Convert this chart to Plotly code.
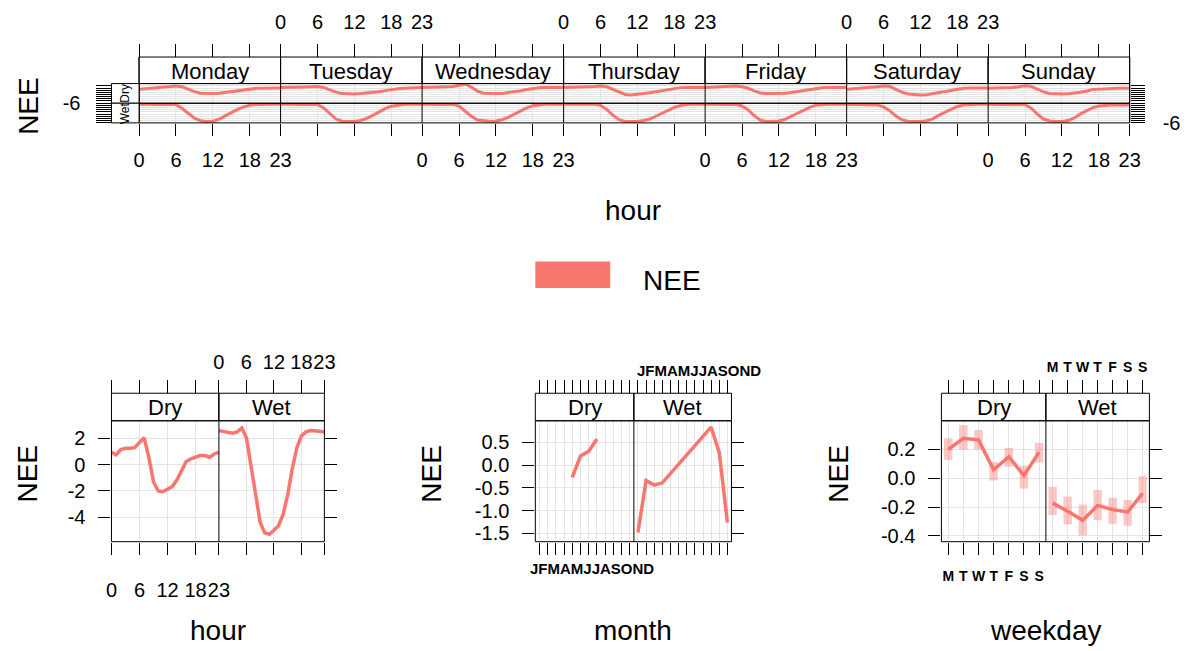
import plotly.graph_objects as go

W, H = 1188, 651
def fx(p): return p / W
def fy(p): return 1 - p / H

FONT = "Liberation Sans, Arial, sans-serif"
LINE = "#F8766D"
BAND = "rgba(248,118,109,0.40)"
GRID = "#E4E4E4"

# ---------------- data ----------------
hours = list(range(24))
hour_ticks = [0, 6, 12, 18, 23]
hour_ticktext = ["0", "6", "12", "18", "23"]
days = ["Monday", "Tuesday", "Wednesday", "Thursday", "Friday", "Saturday", "Sunday"]
seasons = ["Dry", "Wet"]

dry_mon = [0.4, 0.7, 1.0, 1.3, 1.6, 1.9, 1.9, 1.6, 0.4, -0.65, -1.45, -1.6, -1.6, -1.45, -1.1, -0.8, -0.35, 0.1, 0.55, 0.85, 0.85, 1.0, 1.0, 1.0]
dry_tue = [1.3, 1.3, 1.2, 1.3, 1.5, 1.6, 1.7, 1.3, 0.2, -0.9, -1.6, -1.75, -1.75, -1.6, -1.4, -1.1, -0.7, -0.2, 0.3, 0.7, 0.9, 1.0, 1.1, 1.2]
dry_wed = [1.3, 1.3, 1.4, 1.5, 1.6, 1.7, 2.3, 2.8, 1.5, -0.4, -1.4, -1.6, -1.6, -1.5, -1.2, -0.8, -0.3, 0.3, 0.8, 1.1, 1.2, 1.3, 1.3, 1.3]
dry_thu = [1.3, 1.3, 1.4, 1.5, 1.6, 1.7, 1.9, 1.6, 0.3, -1.0, -2.0, -2.2, -2.0, -1.6, -1.2, -0.7, -0.1, 0.5, 1.0, 1.2, 1.3, 1.3, 1.3, 1.3]
dry_fri = [1.3, 1.4, 1.5, 1.7, 1.9, 1.9, 1.6, 0.9, -0.3, -1.3, -1.5, -1.5, -1.5, -1.4, -1.1, -0.6, -0.1, 0.4, 0.8, 1.1, 1.2, 1.3, 1.3, 1.3]
dry_sat = [0.4, 0.6, 0.7, 0.9, 1.2, 1.6, 1.9, 1.8, 0.4, -0.9, -1.8, -2.1, -2.2, -2.1, -1.6, -1.1, -0.5, 0.1, 0.7, 0.9, 1.0, 1.0, 1.0, 1.0]
dry_sun = [0.85, 0.9, 1.0, 1.1, 1.3, 1.6, 2.1, 1.8, 0.6, -0.8, -1.5, -1.75, -1.75, -1.7, -1.4, -1.0, -0.4, 0.3, 0.5, 0.7, 0.8, 0.85, 0.85, 0.85]

wet_mon = [2.6, 2.6, 2.6, 2.6, 2.6, 2.6, 2.55, 0.6, -1.65, -3.9, -5.1, -5.45, -5.3, -4.4, -2.85, -1.2, 0.2, 1.4, 2.15, 2.45, 2.6, 2.6, 2.6, 2.6]
wet_tue = [2.6, 2.6, 2.6, 2.6, 2.6, 2.6, 2.5, 0.9, -1.8, -4.3, -5.3, -5.45, -5.4, -5.0, -4.0, -2.6, -1.0, 0.6, 1.7, 2.3, 2.55, 2.6, 2.6, 2.6]
wet_wed = [2.6, 2.6, 2.6, 2.6, 2.6, 2.55, 1.8, -0.5, -3.0, -4.8, -5.2, -5.3, -5.2, -4.6, -3.5, -2.0, -0.5, 0.9, 1.9, 2.4, 2.6, 2.6, 2.6, 2.6]
wet_thu = [2.6, 2.6, 2.6, 2.6, 2.6, 2.6, 2.1, 0.2, -2.5, -4.6, -5.4, -5.45, -5.4, -5.0, -4.3, -3.0, -1.6, -0.1, 1.2, 2.0, 2.5, 2.6, 2.6, 2.6]
wet_fri = [2.6, 2.6, 2.6, 2.6, 2.6, 2.5, 1.8, 0.0, -2.8, -4.9, -5.4, -5.45, -5.2, -4.4, -2.8, -1.6, -0.2, 1.2, 2.2, 2.5, 2.6, 2.6, 2.6, 2.6]
wet_sat = [2.6, 2.6, 2.6, 2.6, 2.6, 2.3, 1.4, -0.4, -2.9, -4.7, -5.3, -5.45, -5.45, -5.1, -4.2, -2.5, -1.2, 0.3, 1.6, 2.3, 2.55, 2.6, 2.6, 2.6]
wet_sun = [2.6, 2.6, 2.6, 2.6, 2.6, 2.6, 2.4, 0.8, -2.0, -4.3, -5.2, -5.45, -5.45, -5.0, -3.8, -1.9, -0.6, 1.0, 1.8, 2.2, 2.3, 2.3, 2.3, 2.3]

dry_by_day = [dry_mon, dry_tue, dry_wed, dry_thu, dry_fri, dry_sat, dry_sun]
wet_by_day = [wet_mon, wet_tue, wet_wed, wet_thu, wet_fri, wet_sat, wet_sun]

hour_dry = [0.95, 0.75, 1.15, 1.25, 1.25, 1.3, 1.7, 2.05, 0.55, -1.3, -2.0, -2.05, -1.87, -1.67, -1.17, -0.42, 0.25, 0.45, 0.57, 0.7, 0.7, 0.57, 0.82, 0.95]
hour_wet = [2.6, 2.55, 2.5, 2.4, 2.5, 2.8, 2.05, -0.05, -2.5, -4.4, -5.2, -5.3, -5.0, -4.65, -3.8, -2.3, -0.3, 1.3, 2.2, 2.5, 2.6, 2.6, 2.55, 2.5]

months = list(range(1, 13))
month_labels = ["J", "F", "M", "A", "M", "J", "J", "A", "S", "O", "N", "D"]
dry_months = [5, 6, 7, 8]
dry_month_nee = [-0.27, 0.2, 0.3, 0.57]
wet_months = [1, 2, 3, 4, 9, 10, 11, 12]
wet_month_nee = [-1.48, -0.34, -0.44, -0.39, 0.63, 0.83, 0.27, -1.26]

weekdays = [1, 2, 3, 4, 5, 6, 7]
weekday_labels = ["M", "T", "W", "T", "F", "S", "S"]
wd_dry = [0.198, 0.276, 0.265, 0.058, 0.148, 0.018, 0.18]
wd_dry_lo = [0.126, 0.198, 0.198, -0.016, 0.079, -0.072, 0.108]
wd_dry_hi = [0.276, 0.366, 0.333, 0.112, 0.209, 0.085, 0.243]
wd_wet = [-0.173, -0.229, -0.292, -0.189, -0.218, -0.234, -0.106]
wd_wet_lo = [-0.256, -0.319, -0.398, -0.292, -0.315, -0.330, -0.173]
wd_wet_hi = [-0.06, -0.128, -0.184, -0.083, -0.135, -0.151, 0.013]

# ---------------- helpers ----------------
fig = go.Figure()
lay = {}

def ref(p, n):
    return p + ("" if n == 1 else str(n))

def axkey(p, n):
    return p + "axis" + ("" if n == 1 else str(n))

def tfont(size=20, bold=False):
    d = dict(family=FONT, size=size, color="black")
    if bold:
        d["weight"] = "bold"
    return d

def make_x(n, dom, rng, tv, tt, side, anchor, position=None, labels=True,
           ticklen=12, standoff=0, font=None, grid=True, overlaying=None):
    d = dict(range=rng, tickmode="array", tickvals=tv, ticktext=tt, side=side,
             ticks="outside", ticklen=ticklen, tickwidth=1, tickcolor="black",
             showticklabels=labels, showgrid=grid, gridcolor=GRID, gridwidth=1,
             zeroline=False, showline=False, tickangle=0,
             ticklabelstandoff=standoff, tickfont=font or tfont(), fixedrange=True)
    if overlaying:
        d["overlaying"] = overlaying
    else:
        d["domain"] = [fx(dom[0]), fx(dom[1])]
    if anchor == "free":
        d["anchor"] = "free"
        d["position"] = position
    else:
        d["anchor"] = anchor
    lay[axkey("x", n)] = d

def make_y(n, dom, rng, tv, tt, side, anchor, position=None, labels=True,
           ticklen=12, standoff=0, font=None, grid=True):
    d = dict(domain=[fy(dom[1]), fy(dom[0])], range=rng, tickmode="array",
             tickvals=tv, ticktext=tt, side=side, ticks="outside", ticklen=ticklen,
             tickwidth=1, tickcolor="black", showticklabels=labels, showgrid=grid,
             gridcolor=GRID, gridwidth=1, zeroline=False, showline=False,
             ticklabelstandoff=standoff, tickfont=font or tfont(), fixedrange=True)
    if anchor == "free":
        d["anchor"] = "free"
        d["position"] = position
    else:
        d["anchor"] = anchor
    lay[axkey("y", n)] = d

def line_trace(x, y, xn, yn, width=3.0, color=LINE):
    fig.add_trace(go.Scatter(x=x, y=y, xaxis=ref("x", xn), yaxis=ref("y", yn),
                             mode="lines", line=dict(color=color, width=width),
                             showlegend=False, hoverinfo="skip"))

def dummy(xn, yn):
    fig.add_trace(go.Scatter(x=[None], y=[None], xaxis=ref("x", xn), yaxis=ref("y", yn),
                             mode="markers", showlegend=False, hoverinfo="skip"))

shapes = []
annots = []

def rect(x0, y0, x1, y1, fill=None, lw=1):
    shapes.append(dict(type="rect", xref="paper", yref="paper", x0=fx(x0), x1=fx(x1),
                       y0=fy(y1), y1=fy(y0), line=dict(color="black", width=lw),
                       fillcolor=fill if fill else "rgba(0,0,0,0)", layer="above"))

def vline(x, y0, y1):
    shapes.append(dict(type="line", xref="paper", yref="paper", x0=fx(x), x1=fx(x),
                       y0=fy(y1), y1=fy(y0), line=dict(color="black", width=1), layer="above"))

def text(x, y, s, size=20, angle=0, xanchor="center", bold=False):
    annots.append(dict(x=fx(x), y=fy(y), xref="paper", yref="paper", text=s,
                       showarrow=False, textangle=angle, xanchor=xanchor, yanchor="middle",
                       font=tfont(size, bold)))

TITLE = 28
STRIP = 22

# ---------------- top panel (hour x weekday, by season) ----------------
TL, TR = 135.0, 1140.0
dw = (TR - TL) / 7
STRIP_T, STRIP_B = 58, 85
DRY_T, DRY_B = 85, 105
WET_T, WET_B = 105, 125
top_rng = [-6.1, 3.1]
top_ytv = [-6, -5, -4, -3, -2, -1, 0, 1, 2]
top_ytt_lab = ["-6", "", "", "", "", "", "", "", ""]

for i in range(7):
    L, R = TL + i * dw, TL + (i + 1) * dw
    make_x(i + 1, (L, R), [0, 23], hour_ticks, hour_ticktext, "top", "free",
           position=fy(STRIP_T), labels=(i % 2 == 1), ticklen=13, standoff=7)
    make_x(i + 8, (L, R), [0, 23], hour_ticks, hour_ticktext, "bottom",
           "y3" if i < 6 else "y4", labels=(i % 2 == 0), ticklen=12, standoff=7)

make_y(1, (DRY_T, DRY_B), top_rng, top_ytv, top_ytt_lab, "left", "free",
       position=fx(107), labels=True, ticklen=15, standoff=12)
make_y(2, (DRY_T, DRY_B), top_rng, top_ytv, top_ytt_lab, "right", "free",
       position=fx(TR), labels=False, ticklen=14)
make_y(3, (WET_T, WET_B), top_rng, top_ytv, top_ytt_lab, "left", "free",
       position=fx(107), labels=False, ticklen=15)
make_y(4, (WET_T, WET_B), top_rng, top_ytv, top_ytt_lab, "right", "free",
       position=fx(TR), labels=True, ticklen=14, standoff=14)

for i in range(7):
    line_trace(hours, dry_by_day[i], i + 1, 1 if i < 6 else 2, width=3)
    line_trace(hours, wet_by_day[i], i + 8, 3 if i < 6 else 4, width=3)

for i, d in enumerate(days):
    L, R = TL + i * dw, TL + (i + 1) * dw
    rect(L, STRIP_T, R, STRIP_B, fill="white")
    text((L + R) / 2, (STRIP_T + STRIP_B) / 2 + 1, d, size=STRIP)
    vline(L, STRIP_T, WET_B)
rect(TL, DRY_T, TR, DRY_B)
rect(TL, WET_T, TR, WET_B)
vline(TR, STRIP_T, WET_B)
rect(107, DRY_T, TL, DRY_B, fill="white")
rect(107, WET_T, TL, WET_B, fill="white")
text(121, (DRY_T + DRY_B) / 2, "Dry", size=12, angle=-90)
text(121, (WET_T + WET_B) / 2, "Wet", size=12, angle=-90)

text(22, 108, "NEE", size=TITLE, angle=-90)
text(636, 214, "hour", size=TITLE)
# legend key
shapes.append(dict(type="rect", xref="paper", yref="paper", x0=fx(537), x1=fx(613),
                   y0=fy(293), y1=fy(266), line=dict(width=0), fillcolor=LINE, layer="above"))
text(644, 285, "NEE", size=TITLE, xanchor="left")

# ---------------- bottom panels ----------------
BS_T, BS_B = 400, 428
BP_T, BP_B = 428, 551

def bottom_pair(xbase, ybase, x0, xm, x1, rng_x, tv, tt, rng_y, ytv, ytt,
                xfont, xstand_b, xstand_t, title, title_x, nee_x, xlabels=True):
    make_x(xbase, (x0, xm), rng_x, tv, tt, "bottom", ref("y", ybase), labels=xlabels,
           ticklen=12, standoff=xstand_b, font=xfont)
    make_x(xbase + 1, (xm, x1), rng_x, tv, tt, "bottom", ref("y", ybase + 1), labels=False,
           ticklen=12, font=xfont)
    make_x(xbase + 2, (x0, xm), rng_x, tv, tt, "top", "free", position=fy(BS_T),
           labels=False, ticklen=13, font=xfont, grid=False, overlaying=ref("x", xbase))
    make_x(xbase + 3, (xm, x1), rng_x, tv, tt, "top", "free", position=fy(BS_T),
           labels=xlabels, ticklen=13, standoff=xstand_t, font=xfont, grid=False,
           overlaying=ref("x", xbase + 1))
    make_y(ybase, (BP_T, BP_B), rng_y, ytv, ytt, "left", ref("x", xbase), labels=True,
           ticklen=12, standoff=9)
    make_y(ybase + 1, (BP_T, BP_B), rng_y, ytv, ytt, "right", ref("x", xbase + 1),
           labels=False, ticklen=12)
    dummy(xbase + 2, ybase)
    dummy(xbase + 3, ybase + 1)
    rect(x0, BS_T, xm, BS_B, fill="white")
    rect(xm, BS_T, x1, BS_B, fill="white")
    rect(x0, BP_T, x1, BP_B)
    vline(xm, BS_T, BP_B)
    text((x0 + xm) / 2, (BS_T + BS_B) / 2 + 1, "Dry", size=STRIP)
    text((xm + x1) / 2, (BS_T + BS_B) / 2 + 1, "Wet", size=STRIP)
    text(title_x, 641, title, size=TITLE)
    text(nee_x, 482, "NEE", size=TITLE, angle=-90)

# hour
bottom_pair(15, 5, 107, 216, 323, [0, 23], hour_ticks, hour_ticktext,
            [-5.87, 3.35], [-4, -2, 0, 2], ["-4", "-2", "0", "2"],
            tfont(20), 18, 3, "hour", 215, 22)
line_trace(hours, hour_dry, 15, 5, width=3.5)
line_trace(hours, hour_wet, 16, 6, width=3.5)

# month (letters drawn as one compact label string, as in the reference)
bottom_pair(19, 7, 537, 637, 736, [0.5, 12.5], months, month_labels,
            [-1.68, 0.97], [-1.5, -1.0, -0.5, 0.0, 0.5], ["-1.5", "-1.0", "-0.5", "0.0", "0.5"],
            tfont(14, bold=True), 2, 2, "month", 636, 432, xlabels=False)
text(594, 578, "".join(month_labels), size=15, bold=True)
text(703, 377, "".join(month_labels), size=15, bold=True)
line_trace(dry_months, dry_month_nee, 19, 7, width=3.5)
line_trace(wet_months, wet_month_nee, 20, 8, width=3.5)

# weekday
bottom_pair(23, 9, 949, 1055, 1160, [0.55, 7.45], weekdays, weekday_labels,
            [-0.44, 0.397], [-0.4, -0.2, 0.0, 0.2], ["-0.4", "-0.2", "0.0", "0.2"],
            tfont(14, bold=True), 10, 3, "weekday", 1055, 845)
fig.add_trace(go.Bar(x=weekdays, y=[h - l for h, l in zip(wd_dry_hi, wd_dry_lo)], base=wd_dry_lo,
                     width=0.56, marker=dict(color=BAND, line=dict(width=0)),
                     xaxis="x23", yaxis="y9", showlegend=False, hoverinfo="skip"))
fig.add_trace(go.Bar(x=weekdays, y=[h - l for h, l in zip(wd_wet_hi, wd_wet_lo)], base=wd_wet_lo,
                     width=0.56, marker=dict(color=BAND, line=dict(width=0)),
                     xaxis="x24", yaxis="y10", showlegend=False, hoverinfo="skip"))
line_trace(weekdays, wd_dry, 23, 9, width=3.5)
line_trace(weekdays, wd_wet, 24, 10, width=3.5)

fig.update_layout(
    width=W, height=H, autosize=False,
    margin=dict(l=0, r=0, t=0, b=0),
    paper_bgcolor="white", plot_bgcolor="white",
    showlegend=False, hovermode=False,
    font=dict(family=FONT, color="black"),
    shapes=shapes, annotations=annots,
    barmode="overlay",
    **lay,
)

fig.write_html("out.html", config=dict(displayModeBar=False, staticPlot=True))
